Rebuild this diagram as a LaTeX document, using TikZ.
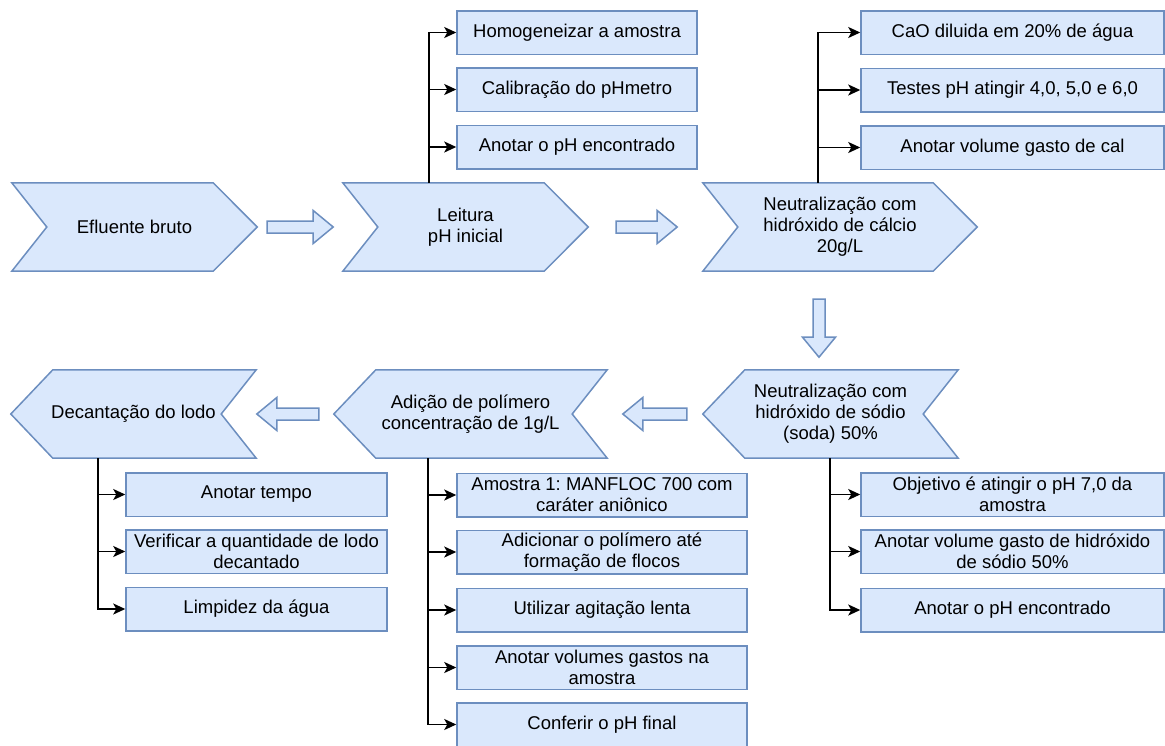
\documentclass[tikz,border=0pt]{standalone}
\usepackage{fontspec}
\setmainfont{Liberation Sans}
\frenchspacing
\usetikzlibrary{positioning,calc,arrows.meta,backgrounds}
\definecolor{stepfill}{HTML}{DAE8FC}
\definecolor{stepline}{HTML}{6C8EBF}

% chevron outlines drawn behind the named step nodes
\newcommand{\chevright}[1]{%
  \begin{scope}[on background layer]
    \draw[chevron] (#1.north west) -- ($(#1.north east)+(-44,0)$) -- (#1.east)
      -- ($(#1.south east)+(-44,0)$) -- (#1.south west) -- ($(#1.west)+(35,0)$) -- cycle;
  \end{scope}}
\newcommand{\chevleft}[1]{%
  \begin{scope}[on background layer]
    \draw[chevron] (#1.west) -- ($(#1.north west)+(42,0)$) -- (#1.north east)
      -- ($(#1.east)+(-35,0)$) -- (#1.south east) -- ($(#1.south west)+(42,0)$) -- cycle;
  \end{scope}}
% hollow block arrow: tail, rotation, length
\newcommand{\blockarrow}[3]{%
  \draw[barrow, shift={#1}, rotate=#2] (0,-6) -- (#3-20,-6) -- (#3-20,-16.5) -- (#3,0)
    -- (#3-20,16.5) -- (#3-20,6) -- (0,6) -- cycle;}

\begin{document}
\begin{tikzpicture}[
  x=1pt, y=-1pt,
  font=\fontsize{18.5}{21}\selectfont,
  chevron/.style={draw=stepline, fill=stepfill, line width=1.5pt, line join=miter},
  stepnode/.style={rectangle, align=center, minimum height=88, inner sep=0pt},
  task/.style={rectangle, draw=stepline, fill=stepfill, line width=1.5pt, align=center, minimum height=43.5, inner sep=1pt},
  barrow/.style={draw=stepline, fill=stepfill, line width=1.5pt, line join=miter},
  branch/.style={-{Stealth[length=12pt,width=11pt,inset=3pt]}, line width=1.6pt, draw=black},
]
\useasboundingbox (0,0) rectangle (1165,745);

% ---------- main steps ----------
\node[stepnode, minimum width=245] (EB) at (134.5,227) {Efluente bruto};
\node[stepnode, minimum width=245] (LP) at (465.5,227) {Leitura\\pH inicial};
\node[stepnode, minimum width=274] (NC) at (840,227) {Neutralização com\\hidróxido de cálcio\\20g/L};
\node[stepnode, minimum width=255] (SD) at (830.5,414) {Neutralização com\\hidróxido de sódio\\(soda) 50\%};
\node[stepnode, minimum width=273] (PA) at (470.5,414) {Adição de polímero\\concentração de 1g/L};
\node[stepnode, minimum width=245] (DL) at (133.5,414) {Decantação do lodo};

\chevright{EB}
\chevright{LP}
\chevright{NC}
\chevleft{SD}
\chevleft{PA}
\chevleft{DL}

% ---------- block arrows between steps ----------
\blockarrow{($(EB.east)+(10,0)$)}{0}{66}
\blockarrow{($(LP.east)+(28,0)$)}{0}{61}
\blockarrow{($(NC.south)+(-21,28)$)}{-90}{58}
\blockarrow{($(SD.west)+(-16,0)$)}{180}{64}
\blockarrow{($(PA.west)+(-15,0)$)}{180}{62}

% ---------- leitura tasks ----------
\node[task, minimum width=240] (L1) at (577,32.5) {Homogeneizar a amostra};
\node[task, minimum width=240] (L2) at (577,89.5) {Calibração do pHmetro};
\node[task, minimum width=240] (L3) at (577,147)  {Anotar o pH encontrado};

% ---------- calcio tasks ----------
\node[task, minimum width=303] (N1) at (1012.5,32.5) {CaO diluida em 20\% de água};
\node[task, minimum width=303] (N2) at (1012.5,90)   {Testes pH atingir 4,0, 5,0 e 6,0};
\node[task, minimum width=303] (N3) at (1012.5,147.5) {Anotar volume gasto de cal};

% ---------- soda tasks ----------
\node[task, minimum width=303] (S1) at (1012.5,494.5) {Objetivo é atingir o pH 7,0 da\\amostra};
\node[task, minimum width=303] (S2) at (1012.5,551.5) {Anotar volume gasto de hidróxido\\de sódio 50\%};
\node[task, minimum width=303] (S3) at (1012.5,610)   {Anotar o pH encontrado};

% ---------- polimero tasks ----------
\node[task, minimum width=290] (P1) at (602,495)   {Amostra 1: MANFLOC 700 com\\caráter aniônico};
\node[task, minimum width=290] (P2) at (602,552)   {Adicionar o polímero até\\formação de flocos};
\node[task, minimum width=290] (P3) at (602,610)   {Utilizar agitação lenta};
\node[task, minimum width=290] (P4) at (602,667.5) {Anotar volumes gastos na\\amostra};
\node[task, minimum width=290] (P5) at (602,724.5) {Conferir o pH final};

% ---------- decantacao tasks ----------
\node[task, minimum width=261] (D1) at (256.5,494.5) {Anotar tempo};
\node[task, minimum width=261] (D2) at (256.5,551.5) {Verificar a quantidade de lodo\\decantado};
\node[task, minimum width=261] (D3) at (256.5,609)   {Limpidez da água};

% ---------- branches ----------
\coordinate (LProot) at ($(LP.north west)+(86,0)$);
\draw[branch] (LProot) |- (L1.west);
\draw[branch] (LProot) |- (L2.west);
\draw[branch] (LProot) |- (L3.west);

\coordinate (NCroot) at ($(NC.north west)+(115,0)$);
\draw[branch] (NCroot) |- (N1.west);
\draw[branch] (NCroot) |- (N2.west);
\draw[branch] (NCroot) |- (N3.west);

\coordinate (SDroot) at ($(SD.south west)+(127,0)$);
\draw[branch] (SDroot) |- (S1.west);
\draw[branch] (SDroot) |- (S2.west);
\draw[branch] (SDroot) |- (S3.west);

\coordinate (PAroot) at ($(PA.south west)+(94,0)$);
\draw[branch] (PAroot) |- (P1.west);
\draw[branch] (PAroot) |- (P2.west);
\draw[branch] (PAroot) |- (P3.west);
\draw[branch] (PAroot) |- (P4.west);
\draw[branch] (PAroot) |- (P5.west);

\coordinate (DLroot) at ($(DL.south west)+(87,0)$);
\draw[branch] (DLroot) |- (D1.west);
\draw[branch] (DLroot) |- (D2.west);
\draw[branch] (DLroot) |- (D3.west);

\end{tikzpicture}
\end{document}
